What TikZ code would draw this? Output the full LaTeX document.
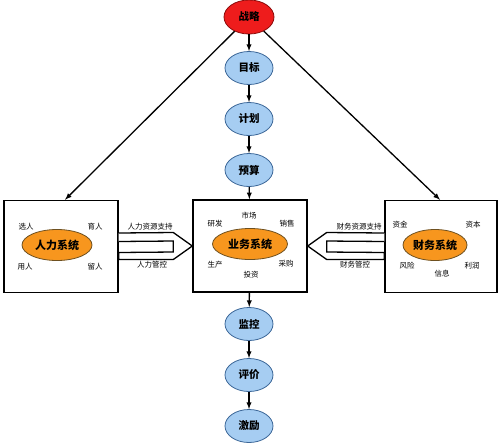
\documentclass[tikz,border=0pt]{standalone}
\usepackage{fontspec}
\setmainfont{Noto Sans CJK SC}
\usetikzlibrary{positioning}
\usetikzlibrary{arrows, shapes, calc}
\definecolor{zlred}{HTML}{EE1C1C}
\definecolor{zlredline}{HTML}{8B0A0A}
\definecolor{stepblue}{HTML}{A6CDF2}
\definecolor{stepline}{HTML}{3C6798}
\definecolor{sysorange}{HTML}{F7961E}
\definecolor{sysline}{HTML}{6E5020}

\begin{document}
\begin{tikzpicture}[x=1pt, y=-1pt, >=latex, font=\small]%

            \tikzstyle{top} = [ ellipse, draw = zlredline, fill = zlred, line width = 0.8pt, minimum width = 50pt, minimum height = 34pt, inner sep = 0pt, font = \fontsize{10.5}{12}\selectfont\bfseries]
            \tikzstyle{stp} = [ ellipse, draw = stepline, fill = stepblue, line width = 0.8pt, minimum width = 48pt, minimum height = 33pt, inner sep = 0pt, font = \fontsize{10.5}{12}\selectfont\bfseries]
            \tikzstyle{sys} = [ ellipse, draw = sysline, fill = sysorange, line width = 0.8pt, minimum height = 31pt, inner sep = 0pt, font = \fontsize{11}{12}\selectfont\bfseries]
            \tikzstyle{box} = [ rectangle, draw = black, line width = 1.4pt, fill = white, minimum height = 92pt, inner sep = 0pt]
            \tikzstyle{tag} = [ inner sep = 0pt, font = \fontsize{7.5}{8}\selectfont]
            \tikzstyle{flow} = [ ->, line width = 1.3pt]
            \tikzstyle{blockarr} = [ draw = black, line width = 1.3pt, fill = white, line join = miter]
        %
            \useasboundingbox (0,0) rectangle (502,445);

            \begin{scope}[node distance = 51pt]
                %% Upper chain
                \node [top] (zhanlue) at (249,17) {战略};
                \node [stp] (mubiao) [ below of = zhanlue] {目标};
                \node [stp] (jihua) [ below of = mubiao] {计划};
                \node [stp] (yusuan) [ below of = jihua] {预算};

                %% Systems
                \node [box, minimum width = 114pt] (renli) at (61,246.5) {};
                \node [box, minimum width = 114pt] (yewu) at (250,246) {};
                \node [box, minimum width = 112pt] (caiwu) at (441,246.5) {};

                \node [sys, minimum width = 70pt] (renli_s) at (57,245) {人力系统};
                \node [sys, minimum width = 75pt] (yewu_s) at (250,244) {业务系统};
                \node [sys, minimum width = 64pt] (caiwu_s) at (435,245) {财务系统};

                %% Lower chain
                \node [stp] (jiankong) at (249,324) {监控};
                \node [stp] (pingjia) [ below of = jiankong] {评价};
                \node [stp] (jili) [ below of = pingjia] {激励};
            \end{scope}

            %% Tags in the boxes
            \node [tag] (xuanren) at ($(renli)+(-35,-20)$) {选人};
            \node [tag] (yuren) at ($(renli)+(34,-20)$) {育人};
            \node [tag] (yongren) at ($(renli)+(-36,20)$) {用人};
            \node [tag] (liuren) at ($(renli)+(34,20)$) {留人};

            \node [tag] (shichang) at ($(yewu)+(-1,-30)$) {市场};
            \node [tag] (yanfa) at ($(yewu)+(-35,-22)$) {研发};
            \node [tag] (xiaoshou) at ($(yewu)+(37,-22)$) {销售};
            \node [tag] (shengchan) at ($(yewu)+(-35,19)$) {生产};
            \node [tag] (caigou) at ($(yewu)+(36,18)$) {采购};
            \node [tag] (touzi) at ($(yewu)+(1,29)$) {投资};

            \node [tag] (zijin) at ($(caiwu)+(-41,-22)$) {资金};
            \node [tag] (ziben) at ($(caiwu)+(32,-22)$) {资本};
            \node [tag] (fengxian) at ($(caiwu)+(-34,19)$) {风险};
            \node [tag] (xinxi) at ($(caiwu)+(1,27)$) {信息};
            \node [tag] (lirun) at ($(caiwu)+(31,19)$) {利润};

            %% Chain arrows
            \draw[flow] (zhanlue) -- (mubiao);
            \draw[flow] (mubiao) -- (jihua);
            \draw[flow] (jihua) -- (yusuan);
            \draw[flow] (yusuan) -- (yewu);
            \draw[flow] (yewu) -- (jiankong);
            \draw[flow] (jiankong) -- (pingjia);
            \draw[flow] (pingjia) -- (jili);
            \draw[flow] (zhanlue) -- ($(renli.north)+(4,0)$);
            \draw[flow] (zhanlue) -- ($(caiwu.north)+(-1,0)$);

            %% Block arrows
            \draw[blockarr] ($(renli.east)+(0,-13.5)$) -- ($(yewu.west)+(-19,-13.5)$) -- (yewu.west)
                -- ($(yewu.west)+(-19,13.5)$) -- ($(renli.east)+(0,13)$) -- ($(renli.east)+(0,6)$)
                -- ($(yewu.west)+(-19,6)$) -- ($(yewu.west)+(-19,-5)$) -- ($(renli.east)+(0,-5)$);
            \draw[blockarr] ($(caiwu.west)+(0,-13.5)$) -- ($(yewu.east)+(19,-13.5)$) -- (yewu.east)
                -- ($(yewu.east)+(19,13.5)$) -- ($(caiwu.west)+(0,13)$) -- ($(caiwu.west)+(0,6)$)
                -- ($(yewu.east)+(19,6)$) -- ($(yewu.east)+(19,-5)$) -- ($(caiwu.west)+(0,-5)$);

            \node [tag] (renli_zc) at (150,227) {人力资源支持};
            \node [tag] (renli_gk) at (152,265) {人力管控};
            \node [tag] (caiwu_zc) at (359,227) {财务资源支持};
            \node [tag] (caiwu_gk) at (355,265) {财务管控};
        \end{tikzpicture}
\end{document}
